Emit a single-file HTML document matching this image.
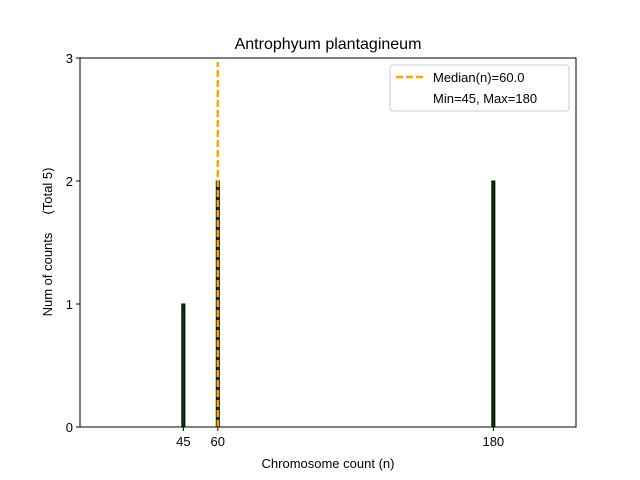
<!DOCTYPE html>
<html><head><meta charset="utf-8"><style>
body{margin:0;background:#fff;}
svg{display:block;font-family:"Liberation Sans","DejaVu Sans",sans-serif;}
</style></head><body>
<svg id="chart" width="640" height="480" xmlns="http://www.w3.org/2000/svg">
<rect width="640" height="480" fill="#fff"/>
<text x="328" y="49" font-size="16" text-anchor="middle">Antrophyum plantagineum</text>
<g id="bars"></g>
<g id="median"></g>
<rect x="80" y="58" width="496" height="369" fill="none" stroke="#000" stroke-width="1"/>
<g id="xticks"></g><g id="yticks"></g>
<text x="328" y="468" font-size="13" text-anchor="middle">Chromosome count (n)</text>
<text transform="translate(52,242) rotate(-90)" font-size="13" text-anchor="middle" xml:space="preserve">Num of counts     (Total 5)</text>
<g>
<rect x="390" y="65" width="179" height="46" rx="3" fill="#fff" stroke="#ccc" stroke-width="1"/>
<line x1="396" y1="77" x2="424" y2="77" stroke="#ffa500" stroke-width="2.5" stroke-dasharray="7,3"/>
<text x="433" y="82" font-size="13">Median(n)=60.0</text>
<text x="433" y="103" font-size="13">Min=45, Max=180</text>
</g>
</svg>
<script>
const categories=[45,60,180];
const counts=[1,2,2];
const xTicks=[45,60,180];
const yTicks=[0,1,2,3];
const medianValue=60;
const X0=80,X1=576,Y0=427,Y1=58,XMIN=0,XMAX=216,YMAX=3;
const sx=v=>X0+(v-XMIN)/(XMAX-XMIN)*(X1-X0);
const sy=v=>Y0-v/YMAX*(Y0-Y1);
const NS="http://www.w3.org/2000/svg";
const mk=(t,a,p)=>{const e=document.createElementNS(NS,t);for(const k in a)e.setAttribute(k,a[k]);p.appendChild(e);return e;};
const bars=document.getElementById('bars');
categories.forEach((c,i)=>{
 const r=mk('rect',{x:sx(c)-1.5,y:sy(counts[i]),width:3,height:sy(0)-sy(counts[i]),fill:'#0a3a0a',stroke:'#000','stroke-width':1},bars);
 
 
});
const med=mk('line',{x1:sx(medianValue),x2:sx(medianValue),y1:Y0,y2:Y1+4,stroke:'#ffa500','stroke-width':2.5,'stroke-dasharray':'7,3'},document.getElementById('median'));


const xt=document.getElementById('xticks');
xTicks.forEach(v=>{
 const l=mk('line',{x1:sx(v),x2:sx(v),y1:Y0,y2:Y0+4,stroke:'#000'},xt);
 
 
 const t=mk('text',{x:sx(v),y:Y0+19,'font-size':13,'text-anchor':'middle'},xt);
 t.textContent=v;
 
 
});
const yt=document.getElementById('yticks');
yTicks.forEach(v=>{
 const l=mk('line',{x1:X0-4,x2:X0,y1:sy(v),y2:sy(v),stroke:'#000'},yt);
 
 
 const t=mk('text',{x:X0-7,y:sy(v)+5,'font-size':13,'text-anchor':'end'},yt);
 t.textContent=v;
 
 
});
</script>
</body></html>
